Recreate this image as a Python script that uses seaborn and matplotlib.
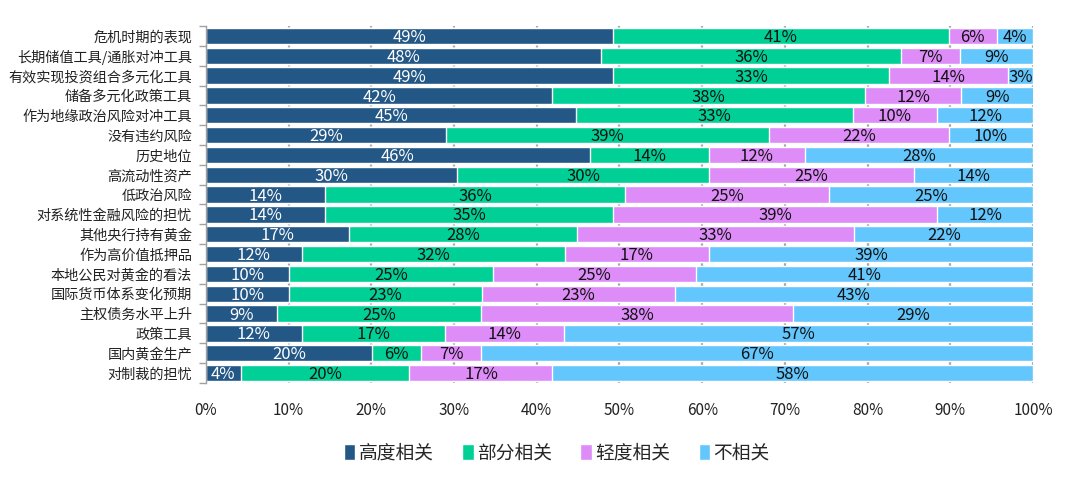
import matplotlib
matplotlib.use("Agg")
import matplotlib.pyplot as plt
import seaborn as sns
import numpy as np
import pandas as pd
from matplotlib.patches import Patch
from matplotlib.ticker import FixedLocator

categories = ["危机时期的表现", "长期储值工具/通胀对冲工具", "有效实现投资组合多元化工具",
              "储备多元化政策工具", "作为地缘政治风险对冲工具", "没有违约风险", "历史地位",
              "高流动性资产", "低政治风险", "对系统性金融风险的担忧", "其他央行持有黄金",
              "作为高价值抵押品", "本地公民对黄金的看法", "国际货币体系变化预期",
              "主权债务水平上升", "政策工具", "国内黄金生产", "对制裁的担忧"]
high = [49.2, 47.8, 49.2, 41.9, 44.8, 29.0, 46.4, 30.4, 14.4, 14.4, 17.3, 11.6, 10.0, 10.0, 8.6, 11.6, 20.1, 4.2]
partial = [40.6, 36.2, 33.4, 37.8, 33.4, 39.1, 14.4, 30.4, 36.3, 34.8, 27.6, 31.8, 24.7, 23.4, 24.7, 17.3, 5.9, 20.4]
slight = [5.8, 7.2, 14.4, 11.6, 10.2, 21.7, 11.6, 24.8, 24.6, 39.2, 33.4, 17.4, 24.6, 23.3, 37.7, 14.4, 7.3, 17.3]
none_ = [4.4, 8.8, 3.0, 8.8, 11.6, 10.2, 27.6, 14.4, 24.7, 11.6, 21.8, 39.2, 40.7, 43.3, 29.0, 56.7, 66.7, 58.1]
series_names = ["高度相关", "部分相关", "轻度相关", "不相关"]
colors = ["#235786", "#00D096", "#DD8CF8", "#63C6FC"]
xticks = [0, 10, 20, 30, 40, 50, 60, 70, 80, 90, 100]

sns.set_theme(style="white")
plt.rcParams['font.family'] = ['Noto Sans CJK SC', 'DejaVu Sans']

series = [high, partial, slight, none_]
cum = np.cumsum(np.array(series), axis=0)
df = pd.DataFrame({"cat": categories})
for i, name in enumerate(series_names):
    df[name] = cum[i]

fig = plt.figure(figsize=(10.8, 4.87), dpi=100)
ax = fig.add_axes([0.1907, 0.2136, 0.7658, 0.733])

for i in range(3, -1, -1):
    sns.barplot(data=df, x=series_names[i], y="cat", orient="h", color=colors[i],
                width=0.82, ax=ax, saturation=1, zorder=2)

# labels
for r in range(len(categories)):
    start = 0
    for i in range(4):
        v = series[i][r]
        c = start + v / 2
        ax.text(c, r + 0.08, f"{round(v):d}%", ha="center", va="center", fontsize=12,
                color="white" if i == 0 else "#111111", zorder=5)
        start += v

ax.set_xlim(0, 100)
ax.set_ylim(len(categories) - 0.5, -0.5)
ax.set_xticks(xticks)
ax.set_xticklabels([f"{t}%" for t in xticks], fontsize=11, color="#222222")
ax.tick_params(axis="x", length=0, pad=14)
ax.tick_params(axis="y", which="major", length=0, labelsize=10.2, pad=10, labelcolor="#222222")
ax.yaxis.set_minor_locator(FixedLocator(np.arange(-0.5, len(categories) + 0.5, 1)))
ax.tick_params(axis="y", which="minor", length=5, color="#A0A0A0", width=1, left=True)
ax.set_xlabel("")
ax.set_ylabel("")
ax.xaxis.grid(True, color="#A8A8A8", linewidth=1.6, zorder=0)
ax.set_axisbelow(True)
for s in ["top", "right", "bottom"]:
    ax.spines[s].set_visible(False)
ax.spines["left"].set_color("#A0A0A0")
ax.spines["left"].set_linewidth(1)

handles = [Patch(facecolor=colors[i], label=series_names[i]) for i in range(4)]
fig.legend(handles=handles, loc="center", bbox_to_anchor=(557 / 1080, 1 - 453 / 487), ncol=4,
           frameon=False, fontsize=13.5, handlelength=0.6, handleheight=0.9, handletextpad=0.2,
           columnspacing=1.5)

fig.savefig("out.png", dpi=100)
